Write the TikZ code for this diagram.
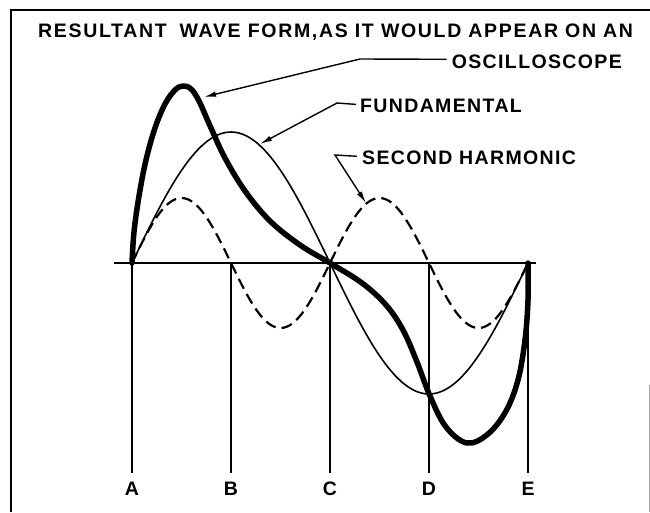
\documentclass[tikz,border=0pt]{standalone}
\usepackage{fontspec}
\usetikzlibrary{arrows.meta}
\newfontfamily\labfont[LetterSpace=7]{Liberation Sans}
\newfontfamily\titlefont[LetterSpace=8.6]{Liberation Sans}
\begin{document}
\begin{tikzpicture}[x=1pt,y=-1pt,
  txt/.style={inner sep=0pt,font=\labfont\bfseries\fontsize{19.5}{22}\selectfont},
  ttl/.style={inner sep=0pt,font=\titlefont\bfseries\fontsize{19.5}{22}\selectfont},
  thinwave/.style={line width=1.6pt},
  thickwave/.style={line width=5.5pt,line cap=round,line join=round},
  dashwave/.style={line width=2.2pt,dash pattern=on 11pt off 6pt},
  lead/.style={line width=1.4pt,-{Latex[length=12pt,width=5.5pt]}},
  rule/.style={line width=1.5pt}]
\useasboundingbox (0,0) rectangle (650,512);
% frame
\draw[line width=2pt] (11,512) -- (11,10) -- (650,10);
\draw[line width=0.8pt,black!35] (649,385) -- (649,512);
% texts
\node[ttl,anchor=base west] (title) at (38,37) {RESULTANT\hspace{0.3em} WAVE FORM,AS IT WOULD APPEAR ON AN};
\node[txt,anchor=base east] (osc) at (622,68) {OSCILLOSCOPE};
\node[txt,anchor=base west] (fund) at (360,112) {FUNDAMENTAL};
\node[txt,anchor=base west] (sech) at (362,164) {SECOND HARMONIC};
% axis points
\coordinate (pA) at (132,263); \coordinate (pB) at (231,263);
\coordinate (pC) at (330,263); \coordinate (pD) at (429,263);
\coordinate (pE) at (528,263);
\coordinate (axL) at (114,263); \coordinate (axR) at (536,263);
\foreach \n/\x in {A/132,B/231,C/330,D/429,E/528}{
  \coordinate (q\n) at (\x,473);
  \node[txt,anchor=base] (l\n) at (\x,495) {\n};
  \draw[rule] (p\n) -- (q\n);
}
\draw[rule] (axL) -- (axR);
% fundamental
\draw[thinwave] plot[domain=0:360,samples=120,variable=\t] ({132+1.1*\t},{263-131*sin(\t)});
% second harmonic
\draw[dashwave] plot[domain=0:360,samples=160,variable=\t] ({132+1.1*\t},{263-65*sin(2*\t)});
% resultant
\draw[thickwave] plot[smooth,tension=0.6] coordinates {
 (132,263) (134,232) (139,196) (146,160) (155,128) (165,104) (175,90) (183,86)
 (191,89) (199,101) (211,128) (225,158) (245,191) (270,221) (300,245) (330,263)
 (362,283) (386,305) (403,330) (417,362) (430,396) (446,427) (467,443) (488,434)
 (506,411) (518,380) (525,340) (528,300) (528,263)};
% leaders
\coordinate (oscK) at (360,59); \coordinate (oscT) at (204,97);
\coordinate (fundK) at (337,103); \coordinate (fundT) at (260,144);
\coordinate (sechK) at (335,155); \coordinate (sechT) at (366,203);
\draw[lead] ([xshift=-5pt,yshift=2pt]osc.west) -- (oscK) -- (oscT);
\draw[lead] ([xshift=-4pt,yshift=1pt]fund.west) -- (fundK) -- (fundT);
\draw[lead] ([xshift=-5pt,yshift=1pt]sech.west) -- (sechK) -- (sechT);
\end{tikzpicture}
\end{document}
